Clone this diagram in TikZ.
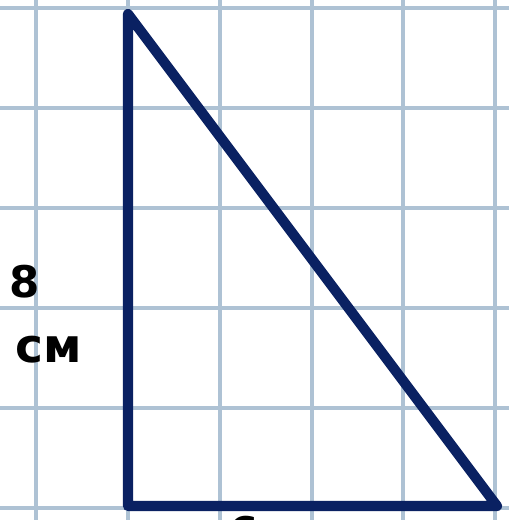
\documentclass[tikz,border=0pt]{standalone}
\usepackage{fontspec}
\usepackage{tikz}
\setmainfont{DejaVu Sans}
\definecolor{navy}{RGB}{10,33,98}
\definecolor{gridblue}{RGB}{174,194,212}
\tikzset{
  cell/.style={draw=gridblue,line width=4.5pt},
  side/.style={draw=navy,line width=14.5pt,line join=round,line cap=round},
  lbl/.style={inner sep=0pt,font=\bfseries\fontsize{62}{70}\selectfont}
}

\begin{document}
\begin{tikzpicture}[x=0.05cm,y=-0.05cm]
						\useasboundingbox (0,0) rectangle (509,520);
						\fill[white] (0,0) rectangle (509,520);
						
						\foreach \gx in {36,128,220,312,403,495}
						\draw[cell] (\gx,0)--(\gx,520);
						\foreach \gy in {8,108,208,308,408,508}
						\draw[cell] (0,\gy)--(509,\gy);
						
						\coordinate (top) at (128,14);
						\coordinate (corner) at (128,506);
						\coordinate (right) at (497,506);
						
						\draw[side] (top)--(corner)--(right)--cycle;
						
						\node[lbl,anchor=base west] (eight) at (9,297) {8};
						\node[lbl,anchor=base west,font=\bfseries\fontsize{67}{76}\selectfont] (unit) at (15,362) {см};
						\node[lbl,anchor=north west] (six) at (228,516) {6};
					\end{tikzpicture}
\end{document}
